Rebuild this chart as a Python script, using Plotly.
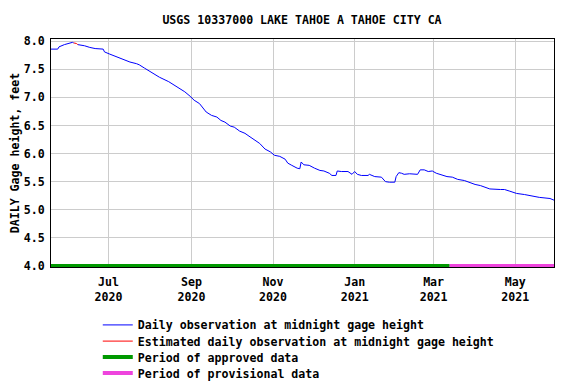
import plotly.graph_objects as go

# Daily observation at midnight gage height
obs_dates = [
    "2020-05-19", "2020-05-24", "2020-05-25", "2020-05-29", "2020-06-04", "2020-06-05",
    None,
    "2020-06-08", "2020-06-13", "2020-06-17", "2020-06-21", "2020-06-27", "2020-06-28",
    "2020-07-02", "2020-07-07", "2020-07-12", "2020-07-17", "2020-07-22", "2020-07-24",
    "2020-07-28", "2020-08-02", "2020-08-08", "2020-08-15", "2020-08-19", "2020-08-23",
    "2020-08-27", "2020-08-31", "2020-09-03", "2020-09-07", "2020-09-12", "2020-09-16",
    "2020-09-20", "2020-09-23", "2020-09-26", "2020-09-30", "2020-10-03", "2020-10-07",
    "2020-10-11", "2020-10-14", "2020-10-18", "2020-10-22", "2020-10-26", "2020-10-30",
    "2020-11-02", "2020-11-06", "2020-11-10", "2020-11-12", "2020-11-15", "2020-11-17",
    "2020-11-19", "2020-11-21", "2020-11-22", "2020-11-24", "2020-11-28", "2020-12-02",
    "2020-12-06", "2020-12-09", "2020-12-13", "2020-12-15", "2020-12-18", "2020-12-19",
    "2020-12-22", "2020-12-27", "2020-12-30", "2021-01-01", "2021-01-03", "2021-01-06",
    "2021-01-11", "2021-01-12", "2021-01-16", "2021-01-21", "2021-01-24", "2021-01-27",
    "2021-01-31", "2021-02-01", "2021-02-03", "2021-02-05", "2021-02-07", "2021-02-11",
    "2021-02-15", "2021-02-17", "2021-02-19", "2021-02-22", "2021-02-25", "2021-02-28",
    "2021-03-03", "2021-03-07", "2021-03-11", "2021-03-15", "2021-03-19", "2021-03-24",
    "2021-04-01", "2021-04-05", "2021-04-08", "2021-04-12", "2021-04-20", "2021-04-23",
    "2021-04-27", "2021-05-02", "2021-05-08", "2021-05-19", "2021-05-27", "2021-05-30",
]
obs_values = [
    7.86, 7.86, 7.90, 7.94, 7.98, 7.97,
    None,
    7.94, 7.92, 7.89, 7.87, 7.86, 7.81,
    7.77, 7.72, 7.67, 7.63, 7.60, 7.58,
    7.52, 7.45, 7.36, 7.28, 7.22, 7.17,
    7.10, 7.02, 6.95, 6.89, 6.74, 6.68,
    6.65, 6.59, 6.56, 6.49, 6.47, 6.40,
    6.36, 6.31, 6.24, 6.18, 6.08, 6.03,
    5.97, 5.95, 5.90, 5.83, 5.79, 5.76,
    5.74, 5.73, 5.85, 5.80, 5.79, 5.74,
    5.70, 5.69, 5.65, 5.61, 5.61, 5.69,
    5.68, 5.68, 5.63, 5.68, 5.63, 5.61,
    5.61, 5.63, 5.59, 5.58, 5.50, 5.49,
    5.49, 5.59, 5.66, 5.65, 5.63, 5.64,
    5.63, 5.63, 5.71, 5.71, 5.68, 5.69,
    5.65, 5.62, 5.59, 5.58, 5.54, 5.52,
    5.45, 5.43, 5.40, 5.37, 5.36, 5.36,
    5.33, 5.29, 5.27, 5.22, 5.20, 5.17,
]

# Estimated daily observation
est_dates = ["2020-06-05", "2020-06-07", "2020-06-08"]
est_values = [7.97, 7.96, 7.94]

# Data-approval periods
approved_period = ["2020-05-19", "2021-03-13"]
provisional_period = ["2021-03-13", "2021-05-30"]
period_level = 4.0

x_range = ["2020-05-19", "2021-05-30"]
tick_vals = ["2020-07-01", "2020-09-01", "2020-11-01", "2021-01-01", "2021-03-01", "2021-05-01"]
tick_text = ["Jul<br>2020", "Sep<br>2020", "Nov<br>2020", "Jan<br>2021", "Mar<br>2021", "May<br>2021"]
y_ticks = [4.0, 4.5, 5.0, 5.5, 6.0, 6.5, 7.0, 7.5, 8.0]

FONT = "DejaVu Sans Mono"
fnt = dict(family=FONT, size=11.6, color="black", weight="bold")

fig = go.Figure()
fig.add_trace(go.Scatter(x=obs_dates, y=obs_values, mode="lines",
                         line=dict(color="#0000ff", width=1),
                         name="Daily observation at midnight gage height", legend="legend"))
fig.add_trace(go.Scatter(x=est_dates, y=est_values, mode="lines",
                         line=dict(color="#ff0000", width=1),
                         name="Estimated daily observation at midnight gage height", legend="legend2"))
fig.add_trace(go.Scatter(x=approved_period, y=[period_level] * 2, mode="lines",
                         line=dict(color="#009900", width=4),
                         name="Period of approved data", cliponaxis=False, legend="legend3"))
fig.add_trace(go.Scatter(x=provisional_period, y=[period_level] * 2, mode="lines",
                         line=dict(color="#ee44dd", width=4),
                         name="Period of provisional data", cliponaxis=False, legend="legend4"))

def leg(yc):
    return dict(x=0.093, y=yc, xanchor="left", yanchor="middle", font=fnt,
                itemwidth=30, bgcolor="rgba(0,0,0,0)", borderwidth=0)

# the page body adds an 8px offset; the figure is sized to fit the 576x384 window
fig.update_layout(
    width=568, height=376,
    margin=dict(l=43, r=22, t=31, b=117, autoexpand=False),
    paper_bgcolor="white", plot_bgcolor="white",
    font=fnt,
    title=dict(text="USGS 10337000 LAKE TAHOE A TAHOE CITY CA", x=0.5176, xanchor="center",
               y=0.968, yanchor="middle", font=fnt),
    showlegend=True,
    legend=leg(-0.254), legend2=leg(-0.325), legend3=leg(-0.395), legend4=leg(-0.465),
    xaxis=dict(type="date", range=x_range, tickvals=tick_vals, ticktext=tick_text,
               showgrid=True, gridcolor="#cccccc", gridwidth=1,
               showline=True, linecolor="black", linewidth=1, mirror=True,
               ticks="", tickfont=fnt, zeroline=False, automargin=False,
               ticklabelstandoff=4),
    yaxis=dict(range=[3.98, 8.04], tickvals=y_ticks, tickformat=".1f",
               showgrid=True, gridcolor="#cccccc", gridwidth=1,
               showline=True, linecolor="black", linewidth=1, mirror=True,
               ticks="", tickfont=fnt, zeroline=False, automargin=True,
               ticklabelstandoff=3,
               title=dict(text="DAILY Gage height, feet", font=fnt, standoff=9)),
)

fig.write_html("out.html")
